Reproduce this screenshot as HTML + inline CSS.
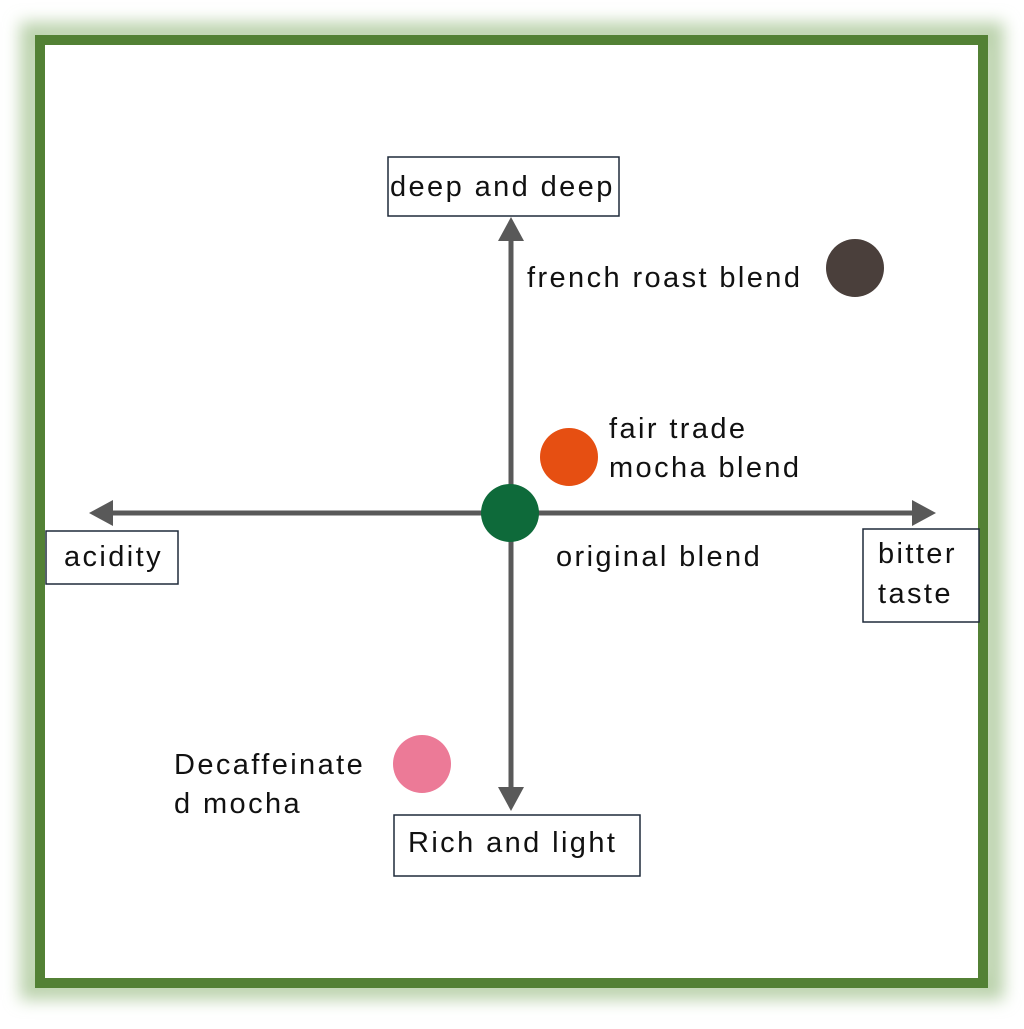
<!DOCTYPE html>
<html><head><style>
body{margin:0;background:#fff;width:1024px;height:1024px;overflow:hidden}
</style></head><body>
<svg width="1024" height="1024" xmlns="http://www.w3.org/2000/svg" style="font-family:'Liberation Sans',sans-serif">
<defs><filter id="g" x="-10%" y="-10%" width="120%" height="120%"><feGaussianBlur stdDeviation="8"/></filter></defs>
<rect x="0" y="0" width="1024" height="1024" fill="#fff"/>
<rect x="32" y="34" width="960" height="954" fill="none" stroke="#bcd3ad" stroke-width="24" filter="url(#g)"/>
<rect x="40" y="40" width="943" height="943" fill="#fff" stroke="#538135" stroke-width="10"/>
<g stroke="#595959" stroke-width="5">
<line x1="511" y1="238" x2="511" y2="790"/>
<line x1="110" y1="513" x2="915" y2="513"/>
</g>
<g fill="#595959">
<polygon points="511,217 498,241 524,241"/>
<polygon points="511,811 498,787 524,787"/>
<polygon points="89,513 113,500 113,526"/>
<polygon points="936,513 912,500 912,526"/>
</g>
<circle cx="855" cy="268" r="29" fill="#4a3f3b"/>
<circle cx="569" cy="457" r="29" fill="#e64f12"/>
<circle cx="510" cy="513" r="29" fill="#0e6a3a"/>
<circle cx="422" cy="764" r="29" fill="#ec7a97"/>
<g fill="#fff" stroke="#1f2a3a" stroke-width="1.5">
<rect x="388" y="157" width="231" height="59"/>
<rect x="46" y="531" width="132" height="53"/>
<rect x="863" y="529" width="116" height="93"/>
<rect x="394" y="815" width="246" height="61"/>
</g>
<g fill="#111" font-size="29" letter-spacing="2.4">
<text x="390" y="196">deep and deep</text>
<text x="64" y="566">acidity</text>
<text x="878" y="563">bitter</text>
<text x="878" y="603">taste</text>
<text x="408" y="852">Rich and light</text>
<text x="527" y="287">french roast blend</text>
<text x="609" y="438">fair trade</text>
<text x="609" y="477">mocha blend</text>
<text x="556" y="566">original blend</text>
<text x="174" y="774">Decaffeinate</text>
<text x="174" y="813">d mocha</text>
</g>
</svg>
</body></html>
